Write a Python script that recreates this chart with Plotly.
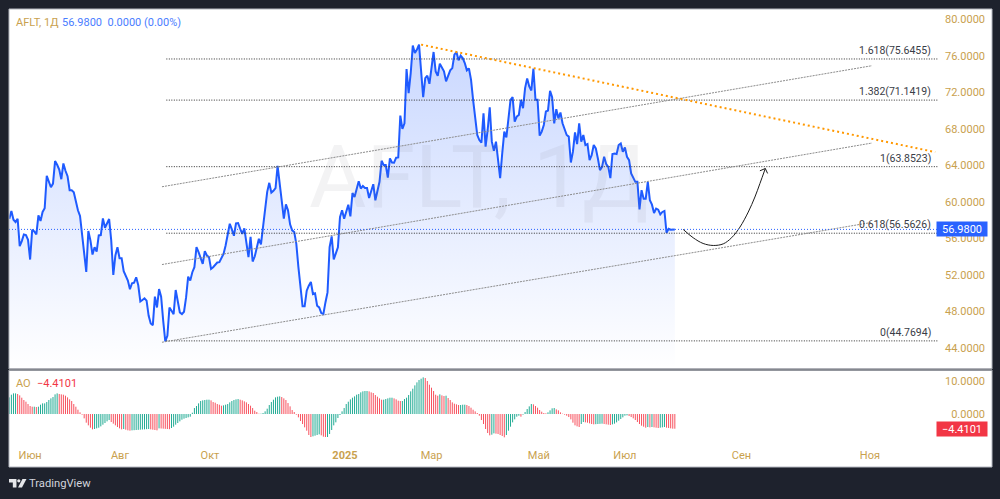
import plotly.graph_objects as go

# Daily closing prices of AFLT
close = [
    58.15, 58.99, 58.04, 57.79, 58.15, 55.15, 55.70, 56.43, 56.36, 55.84,
    53.68, 56.94, 56.76, 56.43, 58.52, 57.90, 58.89, 59.29, 62.85, 62.19,
    61.60, 62.00, 64.46, 64.06, 63.54, 62.48, 64.20, 63.40, 62.81, 61.27,
    61.27, 61.05, 59.88, 59.07, 58.45, 56.16, 53.94, 52.32, 56.80, 55.77,
    54.23, 55.03, 54.56, 56.32, 56.36, 58.19, 57.16, 57.68, 58.12, 55.77,
    51.99, 54.12, 55.03, 53.83, 53.83, 52.40, 51.92, 51.37, 50.42, 51.08,
    51.15, 51.74, 50.86, 49.09, 49.24, 49.43, 49.17, 47.52, 46.67, 46.49,
    49.61, 48.43, 50.45, 49.61, 46.97, 44.70, 45.32, 48.43, 48.07, 47.70,
    50.34, 48.98, 47.88, 47.70, 47.96, 49.53, 51.81, 51.37, 52.29, 52.84,
    55.03, 54.49, 53.94, 53.20, 54.60, 54.12, 53.94, 52.65, 52.84, 53.13,
    53.35, 53.39, 53.86, 54.30, 55.22, 56.50, 57.60, 56.98, 56.28, 57.64,
    57.68, 57.05, 56.50, 57.09, 55.59, 53.94, 56.16, 53.46, 54.01, 54.85,
    55.95, 55.33, 57.42, 59.44, 61.09, 62.08, 61.01, 61.20, 61.49, 63.95,
    62.19, 60.54, 58.15, 59.73, 59.07, 57.53, 56.87, 56.69, 55.40, 52.84,
    51.00, 48.55, 48.55, 50.27, 50.82, 51.22, 49.90, 49.98, 48.62, 48.43,
    47.81, 47.70, 48.98, 50.08, 55.03, 56.21, 53.68, 54.49, 55.03,
    58.33, 59.07, 58.15, 58.89, 59.69, 58.41, 60.97, 60.53, 61.45, 62.26,
    61.45, 61.74, 61.52, 61.52, 60.42, 61.19, 61.93, 60.17, 61.27, 62.19,
    64.50, 64.02, 64.02, 62.66, 64.75, 64.31, 64.28, 64.83, 64.86, 69.45,
    67.98, 68.60, 74.54, 71.90, 74.10, 77.11, 76.30, 76.67, 77.22, 74.10,
    71.46, 73.55, 73.81, 72.93, 74.47, 76.41, 74.29, 73.81, 75.13, 74.65,
    74.29, 73.19, 73.92, 74.40, 74.65, 76.12, 76.41, 75.50, 76.01, 75.75,
    75.20, 74.40, 74.62, 73.37, 71.17, 68.97, 67.32, 66.77, 66.48, 69.70,
    66.04, 67.87, 70.36, 66.59, 65.60, 66.59, 64.39, 62.59, 65.30, 67.69,
    67.06, 68.97, 71.17, 71.46, 68.79, 69.34, 69.52, 71.17, 70.25, 72.45,
    73.52, 72.64, 72.20, 74.58, 71.17, 71.17, 67.25, 67.69, 68.42, 69.89,
    70.00, 72.16, 71.46, 68.60, 70.14, 69.15, 69.78, 68.60, 67.87, 67.32,
    67.14, 64.31, 65.49, 67.61, 66.33, 68.60, 66.59, 67.32, 66.22, 66.33,
    64.57, 65.12, 66.22, 65.85, 64.75, 63.47, 63.83, 64.93, 64.13, 63.83,
    62.59, 65.23, 65.30, 65.23, 66.22, 66.40, 65.49, 65.96, 64.93, 64.57,
    63.10, 62.55, 62.19, 62.19, 59.18, 61.27, 60.35, 60.35, 62.19, 60.17,
    59.69, 58.77, 59.25, 59.14, 58.63, 58.89, 59.00, 56.61, 57.05, 56.94,
    56.98, 56.98,
]

# Awesome Oscillator, one value per session
ao = [
    5.0, 5.8, 6.2, 6.2, 6.0, 5.6, 4.9, 4.2, 3.7, 3.0,
    2.4, 2.2, 2.2, 2.1, 2.2, 2.8, 3.2, 3.2, 3.6, 4.2,
    4.7, 5.1, 5.9, 6.2, 6.0, 5.9, 5.8, 5.5, 5.0, 4.4,
    3.9, 3.0, 2.2, 1.3, 0.5, -0.2, -1.3, -2.6, -3.4, -4.1,
    -4.6, -4.5, -4.3, -4.1, -3.7, -3.2, -2.7, -2.2, -1.8, -2.4,
    -2.9, -3.4, -3.9, -4.3, -4.6, -4.5, -4.7, -4.9, -5.0, -4.9,
    -4.85, -4.8, -4.75, -4.7, -4.65, -4.6, -4.55, -4.5, -4.6, -4.7,
    -4.8, -4.9, -4.3, -4.35, -4.4, -4.45, -4.5, -4.55, -4.2, -3.8,
    -3.2, -2.7, -2.2, -1.7, -1.4, -1.2, -1.0, -0.8, 0.4, 1.8,
    2.4, 3.2, 3.9, 4.1, 4.2, 4.3, 4.3, 4.1, 3.6, 3.4,
    3.0, 2.8, 2.5, 2.6, 2.8, 3.0, 3.5, 3.9, 4.2, 4.4,
    4.5, 4.3, 4.1, 3.8, 3.5, 3.0, 2.5, 1.8, 1.0, 0.6,
    0.1, 0.1, 0.3, 0.8, 1.6, 2.7, 3.6, 4.3, 5.0, 5.2,
    5.3, 5.1, 4.7, 4.2, 3.3, 2.3, 1.2, 0.6, -0.2, -1.0,
    -2.1, -3.0, -4.0, -5.0, -6.3, -6.9, -6.7, -6.5, -6.3, -6.1,
    -6.4, -6.8, -6.9, -6.9, -6.0, -4.8, -3.4, -2.5, -1.2, -0.3,
    0.8, 1.8, 3.0, 3.7, 4.4, 4.9, 5.3, 5.8, 6.0,
    6.5, 6.8, 6.9, 6.9, 6.8, 6.5, 6.3, 5.7, 5.2, 4.7,
    4.3, 4.3, 4.5, 4.7, 4.9, 4.9, 4.7, 4.4, 4.0, 3.9,
    3.9, 4.5, 4.9, 5.7, 6.8, 7.6, 8.6, 9.5, 10.2, 10.6,
    11.0, 10.8, 9.9, 8.8, 7.9, 6.9, 5.8, 5.5, 5.9, 5.6,
    5.4, 5.5, 4.8, 4.2, 3.5, 3.1, 2.9, 2.7, 2.7, 2.8,
    2.8, 2.7, 2.4, 1.9, 1.3, 0.8, 0.3, -0.5, -1.8, -3.0,
    -4.5, -5.7, -6.4, -6.2, -5.8, -5.9, -6.0, -6.3, -6.6, -7.0,
    -6.3, -5.0, -3.8, -2.5, -1.6, -0.8, -0.5, -0.8, -0.2, 0.6,
    1.5, 2.3, 3.0, 2.9, 2.4, 1.9, 1.2, 0.7, 0.3, 0.2,
    0.5, 1.1, 1.7, 1.8, 1.4, 1.1, 0.5, 0.1, -0.2, -0.5,
    -0.9, -1.6, -2.6, -3.4, -3.7, -3.9, -3.0, -2.4, -2.5, -2.6,
    -2.8, -3.0, -3.1, -3.05, -3.0, -2.95, -2.9, -3.0, -3.1, -3.2,
    -3.3, -3.1, -2.9, -2.5, -2.0, -1.5, -1.0, -0.5, -0.4, -0.6,
    -0.9, -1.3, -1.8, -2.4, -3.0, -3.5, -3.8, -4.1, -3.9, -4.0,
    -3.9, -4.0, -4.1, -4.2, -4.1, -4.0, -3.9, -4.1, -4.2, -4.3,
    -4.4, -4.41,
]

month_ticks = [10, 53.2, 96.5, 161.4, 203, 254.6, 296, 352, 413.8]
month_labels = ["Июн", "Авг", "Окт", "<b>2025</b>", "Мар", "Май", "Июл", "Сен", "Ноя"]

price_ticks = [44, 48, 52, 56, 60, 64, 68, 72, 76, 80]
ao_ticks = [0, 10]

fib_levels = [0.0, 0.618, 1.0, 1.382, 1.618]
fib_prices = [44.7694, 56.5626, 63.8523, 71.1419, 75.6455]
fib_start, fib_end = 75.5, 446.5

# Rising channel: three parallel lines, as (start price, end price)
channel_span = (73.4, 414.8)
channel_lines = [(44.62, 57.75), (53.13, 66.44), (61.65, 74.91)]

# Falling resistance from the March high
resistance_x = [198, 445.2]
resistance_y = [77.22, 65.45]

# Hand-drawn projection and its arrow head
path_x = [324.0, 328.8, 333.6, 338.5, 343.3, 347.3, 351.3, 355.3, 358.5, 360.9, 363.5]
path_y = [56.98, 56.07, 55.44, 55.22, 55.40, 56.07, 57.23, 58.88, 60.53, 62.00, 63.65]
head_x = [360.9, 363.5, 364.6]
head_y = [63.40, 63.65, 63.11]

last_price = close[-1]
last_ao = ao[-1]

DARK = "#1e222d"
GOLD = "#c9a14e"
BLUE = "#2962ff"
TEXT = "#3a3d47"
TICK_FONT = dict(family="Roboto", size=11, color=GOLD)

bars = list(range(len(close)))
# Columns are split by direction: teal when the oscillator rises, red when it falls
rising = [i for i in range(len(ao)) if i == 0 or ao[i] >= ao[i - 1]]
falling = [i for i in range(len(ao)) if i > 0 and ao[i] < ao[i - 1]]

X_RANGE = [-0.15, 472.5]
LEFT, RIGHT, TOP, BOTTOM = 9, 992, 9, 467


def px_x(px):
    return (px - LEFT) / (RIGHT - LEFT)


def px_y(py):
    return (BOTTOM - py) / (BOTTOM - TOP)


fig = go.Figure()

fig.add_trace(go.Scatter(
    x=bars, y=close, mode="lines", line=dict(color="#1f5bff", width=2),
    fill="tozeroy",
    fillgradient=dict(type="vertical", start=77.2, stop=41.7,
                      colorscale=[[0, "rgba(41,98,255,0.25)"], [1, "rgba(41,98,255,0.0)"]]),
    hoverinfo="skip", xaxis="x", yaxis="y", showlegend=False,
))
fig.add_trace(go.Scatter(
    x=path_x, y=path_y, mode="lines", line=dict(color="#1c1c1c", width=1, shape="spline"),
    hoverinfo="skip", xaxis="x", yaxis="y", showlegend=False,
))
fig.add_trace(go.Scatter(
    x=head_x, y=head_y, mode="lines", line=dict(color="#1c1c1c", width=1),
    hoverinfo="skip", xaxis="x", yaxis="y", showlegend=False,
))
# Each column is a hairline stem from zero, so it can sit between pixels
for members, colour in ((rising, "#22ab94"), (falling, "#f7525f")):
    stem_x, stem_y = [], []
    for i in members:
        stem_x += [i, i, None]
        stem_y += [0, ao[i], None]
    fig.add_trace(go.Scatter(
        x=stem_x, y=stem_y, mode="lines", line=dict(color=colour, width=1),
        hoverinfo="skip", xaxis="x2", yaxis="y2", showlegend=False,
    ))

shapes = []
for price in fib_prices:
    shapes.append(dict(type="line", xref="x", yref="y", x0=fib_start, x1=fib_end, y0=price, y1=price,
                       line=dict(color="#2e2e2e", width=1, dash="1px,1.5px")))
for start, end in channel_lines:
    shapes.append(dict(type="line", xref="x", yref="y", x0=channel_span[0], x1=channel_span[1], y0=start, y1=end,
                       line=dict(color="#8c8c8c", width=1, dash="2px,1px")))
shapes.append(dict(type="line", xref="x", yref="y", x0=resistance_x[0], x1=resistance_x[1],
                   y0=resistance_y[0], y1=resistance_y[1],
                   line=dict(color="#ff9800", width=2, dash="2px,3px")))
shapes.append(dict(type="line", xref="x", yref="y", x0=X_RANGE[0], x1=fib_end, y0=last_price, y1=last_price,
                   line=dict(color=BLUE, width=1, dash="1px,2px")))

# Pane frames
for y0, y1, colour in ((TOP, 369, "#b4b7c0"), (370, BOTTOM, "#b4b7c0")):
    shapes.append(dict(type="rect", xref="paper", yref="paper", x0=0, x1=1, y0=px_y(y1), y1=px_y(y0),
                       line=dict(color=colour, width=1), fillcolor="rgba(0,0,0,0)"))
shapes.append(dict(type="line", xref="paper", yref="paper", x0=0, x1=1, y0=px_y(369.5), y1=px_y(369.5),
                   line=dict(color="#85888f", width=2)))

# Brand mark beside the wordmark
mark = [
    [(9, 479), (16.5, 479), (16.5, 487.5), (12.8, 487.5), (12.8, 482.5), (9, 482.5)],
    [(26.5, 479), (22, 487.5), (18, 487.5), (22.5, 479)],
]
for polygon in mark:
    path = "M " + " L ".join(f"{px_x(x):.4f},{px_y(y):.4f}" for x, y in polygon) + " Z"
    shapes.append(dict(type="path", xref="paper", yref="paper", path=path,
                       fillcolor="#e6e7ea", line=dict(width=0)))
shapes.append(dict(type="circle", xref="paper", yref="paper", x0=px_x(17.2), x1=px_x(20.4), y0=px_y(482.4), y1=px_y(479.2),
                   fillcolor="#e6e7ea", line=dict(width=0)))

annotations = [
    dict(text="AFLT, 1Д", xref="paper", yref="paper", x=px_x(479), y=px_y(176), yanchor="middle", showarrow=False,
         font=dict(family="Roboto", size=88, color="rgba(120,123,134,0.09)")),
    dict(text="AFLT, 1Д", xref="paper", yref="paper", x=px_x(13.5), y=px_y(22), xanchor="left", yanchor="middle",
         showarrow=False, font=dict(family="Roboto", size=11, color=GOLD)),
    dict(text="56.9800  0.0000 (0.00%)", xref="paper", yref="paper", x=px_x(60), y=px_y(22), xanchor="left",
         yanchor="middle", showarrow=False, font=dict(family="Roboto", size=11, color="#4a7dff")),
    dict(text="AO", xref="paper", yref="paper", x=px_x(13.5), y=px_y(383.5), xanchor="left", yanchor="middle",
         showarrow=False, font=dict(family="Roboto", size=11, color=GOLD)),
    dict(text="−4.4101", xref="paper", yref="paper", x=px_x(34.5), y=px_y(383.5), xanchor="left", yanchor="middle",
         showarrow=False, font=dict(family="Roboto", size=11, color="#f23645")),
    dict(text="56.9800", xref="paper", yref="y", x=px_x(988), y=last_price, xanchor="right", yanchor="middle",
         showarrow=False, bgcolor=BLUE, width=50, height=14, borderpad=0, align="center",
         font=dict(family="Roboto", size=11, color="#ffffff")),
    dict(text="−4.4101", xref="paper", yref="y2", x=px_x(988), y=last_ao, xanchor="right", yanchor="middle",
         showarrow=False, bgcolor="#f23645", width=50, height=14, borderpad=0, align="center",
         font=dict(family="Roboto", size=11, color="#ffffff")),
    dict(text="TradingView", xref="paper", yref="paper", x=px_x(27), y=px_y(483.5), xanchor="left", yanchor="middle",
         showarrow=False, font=dict(family="Roboto", size=11.2, color="#d1d4dc")),
]
for level, price in zip(fib_levels, fib_prices):
    annotations.append(dict(
        text=f"{level:g}({price:.4f})", xref="x", yref="y", x=444.1, y=price,
        xanchor="right", yanchor="bottom", showarrow=False, yshift=0,
        font=dict(family="Roboto", size=10.5, color=TEXT),
    ))

fig.update_layout(
    width=1000, height=499,
    margin=dict(l=LEFT, r=1000 - RIGHT, t=TOP, b=499 - BOTTOM, pad=0),
    paper_bgcolor=DARK, plot_bgcolor="#ffffff",
    showlegend=False,
    shapes=shapes, annotations=annotations,
    xaxis=dict(domain=[0, 1], range=X_RANGE, anchor="y", visible=False),
    yaxis=dict(domain=[px_y(369), 1], range=[41.69, 81.12], side="right", anchor="x",
               tickvals=price_ticks, ticktext=[f"{t:.4f}" for t in price_ticks],
               ticklabelposition="inside", ticklabelstandoff=4, tickfont=TICK_FONT,
               showgrid=False, zeroline=False, showline=False, ticks=""),
    xaxis2=dict(domain=[0, 1], range=X_RANGE, anchor="y2", tickvals=month_ticks, ticktext=month_labels,
                ticklabelposition="inside", ticklabelstandoff=3, tickfont=dict(family="Roboto", size=11, color=GOLD),
                showgrid=False, zeroline=False, showline=False, ticks=""),
    yaxis2=dict(domain=[0, px_y(370.5)], range=[-15.9, 13.06], side="right", anchor="x2",
                tickvals=ao_ticks, ticktext=[f"{t:.4f}" for t in ao_ticks],
                ticklabelposition="inside", ticklabelstandoff=4, tickfont=TICK_FONT,
                showgrid=False, zeroline=False, showline=False, ticks=""),
)

fig.write_html("out.html")
